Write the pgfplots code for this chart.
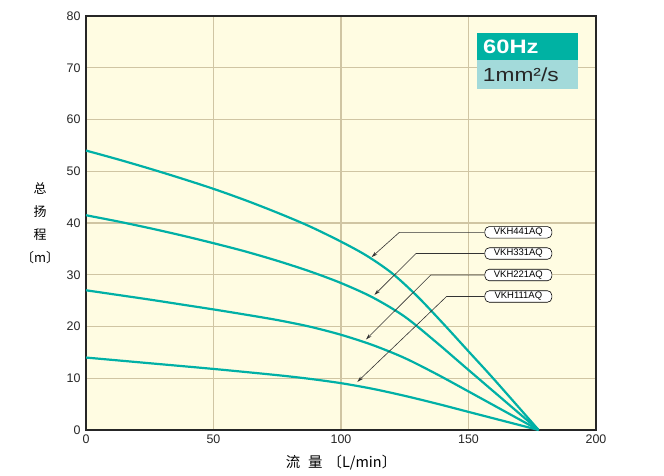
\documentclass[border=0pt]{standalone}
\usepackage{pgfplots}
\pgfplotsset{compat=1.18}
\usepackage{graphicx}
\usetikzlibrary{arrows.meta}
\usepackage{fontspec}
\setmainfont{Liberation Sans}
\newfontfamily\cjk{Noto Sans CJK SC}
\definecolor{curvec}{RGB}{0,176,166}
\definecolor{bgc}{RGB}{255,252,226}
\definecolor{gridc}{RGB}{208,197,163}
\definecolor{boxa}{RGB}{0,178,163}
\definecolor{boxb}{RGB}{163,218,218}
\begin{document}
\begin{tikzpicture}
\useasboundingbox (-86bp,-46bp) rectangle (578bp,430bp);
\begin{axis}[
  scale only axis, width=510bp, height=414bp,
  at={(0,0)}, anchor=south west,
  xmin=0, xmax=200, ymin=0, ymax=80,
  xtick={0,50,...,200}, ytick={0,10,...,80},
  grid=major, major grid style={color=gridc, line width=1.3bp},
  axis background/.style={fill=bgc},
  axis line style={line width=1.3bp, color=black!85},
  major tick length=0pt,
  tick label style={font=\fontsize{12.5}{14}\selectfont, color=black!85},
  /pgf/number format/assume math mode=true,
  xticklabel style={yshift=-1bp},
  yticklabel style={xshift=-2bp},
  xlabel={流\hspace{8bp}量\hspace{5bp}〔L/min〕},
  xlabel style={font=\cjk\fontsize{14.5}{16}\selectfont, at={(axis description cs:0.5,0)}, anchor=center, yshift=-33bp, xshift=0bp},
  ylabel={总\\扬\\程\\〔m〕},
  ylabel style={font=\cjk\fontsize{13}{23}\selectfont, rotate=-90, align=center, at={(axis description cs:-0.09,0.5)}, anchor=center},
  clip=false,
]
\addplot[curvec, line width=2.2bp, smooth, tension=0.5] coordinates {
(0,54) (12.5,52.3) (25,50.5) (37.5,48.6) (50,46.6) (62.5,44.4) (75,42.0) (87.5,39.4) (100,36.4) (110,33.7) (120,30.3) (130,25.8) (140,20.6) (150,15.2) (160,9.8) (177.5,0)};
\addplot[curvec, line width=2.2bp, smooth, tension=0.5] coordinates {
(0,41.5) (12.5,40.3) (25,39.0) (37.5,37.6) (50,36.1) (62.5,34.5) (75,32.7) (87.5,30.7) (100,28.4) (112.5,25.6) (125,21.9) (137.5,16.9) (150,11.6) (177.5,0)};
\addplot[curvec, line width=2.2bp, smooth, tension=0.5] coordinates {
(0,27) (12.5,26.1) (25,25.2) (37.5,24.25) (50,23.3) (62.5,22.3) (75,21.25) (87.5,20.0) (100,18.4) (112.5,16.4) (125,13.9) (137.5,10.8) (150,7.45) (177.5,0)};
\addplot[curvec, line width=2.2bp, smooth, tension=0.5] coordinates {
(0,14) (25,12.9) (50,11.8) (75,10.6) (87.5,9.9) (100,9.05) (112.5,7.95) (125,6.6) (137.5,5.1) (150,3.5) (177.5,0)};
% annotations
\tikzset{lbl/.style={draw=black, line width=0.6bp, fill=white, rounded corners=4.5bp, inner sep=0pt, minimum width=67bp, minimum height=11.5bp, font=\fontsize{9.5}{10}\selectfont, anchor=west}}
\tikzset{arr/.style={draw=black!80, line width=0.6bp, -{Stealth[length=6bp,width=3.5bp]}}}
\node[lbl] (a) at (axis cs:156.3,38.2) {VKH441AQ};
\node[lbl] (b) at (axis cs:156.3,34.1) {VKH331AQ};
\node[lbl] (c) at (axis cs:156.3,29.95) {VKH221AQ};
\node[lbl] (d) at (axis cs:156.3,25.8) {VKH111AQ};
\draw[arr] (a.west) -- (axis cs:122.9,38.2) -- (axis cs:112,33.4);
\draw[arr] (b.west) -- (axis cs:129.4,34.1) -- (axis cs:113.1,26.1);
\draw[arr] (c.west) -- (axis cs:135.2,29.95) -- (axis cs:109.8,17.5);
\draw[arr] (d.west) -- (axis cs:141.4,25.8) -- (axis cs:106.4,9.3);
% condition box
\fill[boxa] (axis cs:153.5,76.7) rectangle (axis cs:193.1,71.5);
\fill[boxb] (axis cs:153.5,71.5) rectangle (axis cs:193.1,65.9);
\node[anchor=west, inner sep=0pt, text=white, font=\fontsize{19.5}{20}\selectfont\bfseries] at (axis cs:155.7,74.1) {\scalebox{1.22}[1]{60Hz}};
\node[anchor=west, inner sep=0pt, text=black!85, font=\fontsize{19}{20}\selectfont] at (axis cs:155.6,68.6) {\scalebox{1.2}[1]{1mm²/s}};
\end{axis}
\end{tikzpicture}
\end{document}
